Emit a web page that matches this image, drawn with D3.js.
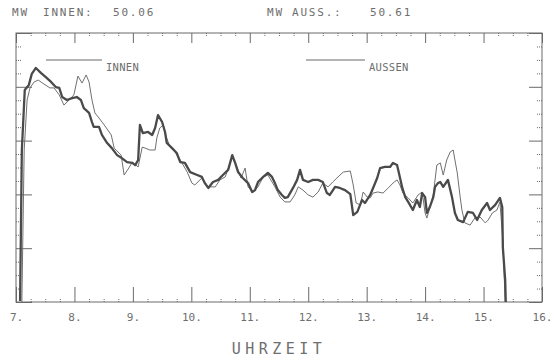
<!DOCTYPE html>
<html>
<head>
<meta charset="utf-8">
<script src="https://cdn.jsdelivr.net/npm/d3@7"></script>
<style>
  body { margin: 0; background: #fff; }
  svg text { font-family: "DejaVu Sans Mono", monospace; fill: #6e6e6e; }
  .axis path, .axis line { stroke: #6a6a6a; }
</style>
</head>
<body>
<svg id="chart"></svg>
<script>
// time of day (hours) and value
const innen = [
  [7.07,0.4],[7.10,56.5],[7.15,78.8],[7.22,80.7],[7.27,84.8],[7.34,87.0],[7.43,85.1],[7.51,83.6],
  [7.60,81.8],[7.68,79.9],[7.74,79.6],[7.79,76.2],[7.87,75.1],[7.96,75.8],[8.04,76.2],[8.11,75.1],
  [8.16,72.1],[8.25,70.3],[8.30,66.9],[8.33,65.1],[8.42,65.1],[8.47,62.1],[8.56,59.1],[8.64,57.2],
  [8.73,54.6],[8.81,53.5],[8.90,52.0],[8.99,51.7],[9.04,50.9],[9.09,52.8],[9.12,65.8],[9.17,62.8],
  [9.26,63.2],[9.33,62.1],[9.38,64.7],[9.43,69.5],[9.50,66.9],[9.55,63.2],[9.58,59.1],[9.67,57.2],
  [9.75,55.4],[9.81,52.0],[9.89,51.7],[9.98,48.3],[10.10,47.2],[10.18,46.5],[10.23,44.2],[10.29,42.4],
  [10.37,44.6],[10.46,45.4],[10.54,47.2],[10.63,49.1],[10.70,54.6],[10.75,51.7],[10.80,48.3],[10.88,46.1],
  [10.97,44.2],[11.04,40.9],[11.09,41.6],[11.14,44.6],[11.23,46.5],[11.31,48.0],[11.38,46.5],[11.43,44.2],
  [11.48,41.6],[11.55,39.8],[11.60,38.7],[11.65,39.0],[11.74,42.4],[11.81,45.4],[11.86,49.1],[11.91,45.4],
  [12.00,44.6],[12.08,45.4],[12.17,45.4],[12.25,44.6],[12.32,40.5],[12.37,39.8],[12.46,42.8],[12.54,42.4],
  [12.63,41.6],[12.72,40.1],[12.77,32.3],[12.84,33.5],[12.92,37.9],[12.97,36.8],[13.06,39.8],[13.11,42.4],
  [13.18,46.1],[13.23,49.8],[13.31,50.2],[13.40,50.2],[13.45,51.7],[13.52,50.9],[13.54,49.1],[13.61,42.4],
  [13.66,39.0],[13.71,37.2],[13.79,34.2],[13.86,37.9],[13.91,35.3],[13.95,40.5],[14.00,39.0],[14.03,33.1],
  [14.08,35.3],[14.14,39.0],[14.17,42.8],[14.22,44.2],[14.26,44.6],[14.31,42.8],[14.39,45.4],[14.46,39.0],
  [14.51,33.1],[14.56,30.5],[14.65,29.7],[14.73,33.5],[14.82,33.1],[14.89,30.5],[14.97,34.2],[15.06,36.8],
  [15.11,34.2],[15.20,36.1],[15.28,38.7],[15.32,35.3],[15.33,20.4],[15.37,8.2],[15.38,0]
];

const aussen = [
  [7.10,0],[7.14,56.5],[7.19,75.1],[7.24,79.6],[7.31,81.8],[7.38,82.5],[7.48,81.0],[7.58,79.6],
  [7.65,79.6],[7.74,77.0],[7.82,73.2],[7.91,75.1],[7.99,77.0],[8.06,84.0],[8.13,81.4],[8.20,84.4],
  [8.25,81.8],[8.30,75.1],[8.35,70.3],[8.42,68.4],[8.51,65.8],[8.63,62.1],[8.68,57.2],[8.80,54.6],
  [8.85,47.2],[8.93,49.8],[8.99,52.0],[9.09,50.2],[9.16,57.6],[9.21,57.2],[9.29,56.5],[9.38,56.5],
  [9.41,61.0],[9.46,64.7],[9.52,65.8],[9.57,61.3],[9.64,57.6],[9.72,55.8],[9.81,52.8],[9.93,48.3],
  [10.01,44.2],[10.06,43.5],[10.18,46.1],[10.29,42.8],[10.41,42.8],[10.49,45.4],[10.58,46.5],[10.70,53.9],
  [10.78,50.2],[10.85,46.1],[10.92,49.8],[10.97,42.8],[11.06,40.9],[11.14,42.8],[11.23,46.5],[11.31,47.2],
  [11.43,42.8],[11.52,39.0],[11.60,37.2],[11.69,37.2],[11.77,39.8],[11.83,42.8],[11.91,41.6],[12.00,39.8],
  [12.08,39.0],[12.17,40.9],[12.25,44.2],[12.34,42.8],[12.42,44.6],[12.51,46.5],[12.60,48.3],[12.72,48.7],
  [12.77,43.5],[12.82,36.8],[12.89,36.1],[12.94,40.9],[13.01,39.0],[13.06,38.7],[13.11,40.5],[13.19,40.9],
  [13.28,40.5],[13.37,42.4],[13.45,44.2],[13.52,45.4],[13.57,43.5],[13.62,40.5],[13.71,38.7],[13.79,36.8],
  [13.88,39.8],[13.95,40.9],[14.00,33.1],[14.03,31.2],[14.08,34.9],[14.14,39.8],[14.20,50.9],[14.26,51.7],
  [14.31,47.2],[14.37,52.8],[14.43,55.8],[14.48,56.5],[14.51,52.8],[14.55,48.0],[14.60,39.0],[14.63,34.2],
  [14.68,29.4],[14.77,28.6],[14.85,31.2],[14.94,31.6],[15.03,29.4],[15.08,30.5],[15.15,33.1],[15.23,34.2],
  [15.28,37.2],[15.33,23.0],[15.37,0]
];

const hourTicks = [7, 8, 9, 10, 11, 12, 13, 14, 15, 16];
const valueTicks = [0, 20, 40, 60, 80, 100];
const meanInnen = "50.06";
const meanAussen = "50.61";

const W = 554, H = 364;
const svg = d3.select("#chart").attr("width", W).attr("height", H);

const x = d3.scaleLinear().domain([7, 16]).range([16, 542]);
const y = d3.scaleLinear().domain([0, 100]).range([302, 33]);

const minorX = d3.range(7, 16.01, 0.25).filter(d => d % 1 !== 0);
const minorY = d3.range(0, 100.1, 5).filter(d => d % 20 !== 0);

// frame
svg.append("rect")
    .attr("x", x(7)).attr("y", y(100))
    .attr("width", x(16) - x(7)).attr("height", y(0) - y(100))
    .attr("fill", "none").attr("stroke", "#6a6a6a").attr("stroke-width", 1);

// bottom axis with labels
const bottomAxis = svg.append("g").attr("class", "axis")
    .attr("transform", `translate(0,${y(0)})`)
    .call(d3.axisBottom(x).tickValues(hourTicks).tickSize(-15).tickSizeOuter(0)
        .tickPadding(11).tickFormat(d => d + "."));
bottomAxis.select(".domain").remove();
bottomAxis.selectAll("text").attr("font-size", 11).attr("dy", "0.71em")
    .attr("font-family", "DejaVu Sans Mono").attr("fill", "#6e6e6e");

const minorAxis = (g, axis) => {
    g.attr("class", "axis").call(axis);
    g.select(".domain").remove();
    g.selectAll("text").remove();
    g.selectAll("line").attr("stroke-dasharray", "1,1");
};

svg.append("g").attr("transform", `translate(0,${y(0)})`)
    .call(g => minorAxis(g, d3.axisBottom(x).tickValues(minorX).tickSize(-4)));
svg.append("g").attr("transform", `translate(0,${y(100)})`)
    .call(g => minorAxis(g, d3.axisTop(x).tickValues(minorX).tickSize(-3)));

// top major ticks
const topAxis = svg.append("g").attr("class", "axis")
    .attr("transform", `translate(0,${y(100)})`)
    .call(d3.axisTop(x).tickValues(hourTicks).tickSize(-10).tickSizeOuter(0).tickFormat(""));
topAxis.select(".domain").remove();

// left / right ticks
const leftAxis = svg.append("g").attr("class", "axis")
    .attr("transform", `translate(${x(7)},0)`)
    .call(d3.axisLeft(y).tickValues(valueTicks).tickSize(-16).tickSizeOuter(0).tickFormat(""));
leftAxis.select(".domain").remove();
const rightAxis = svg.append("g").attr("class", "axis")
    .attr("transform", `translate(${x(16)},0)`)
    .call(d3.axisRight(y).tickValues(valueTicks).tickSize(-13).tickSizeOuter(0).tickFormat(""));
rightAxis.select(".domain").remove();
svg.append("g").attr("transform", `translate(${x(7)},0)`)
    .call(g => minorAxis(g, d3.axisLeft(y).tickValues(minorY).tickSize(-6)));
svg.append("g").attr("transform", `translate(${x(16)},0)`)
    .call(g => minorAxis(g, d3.axisRight(y).tickValues(minorY).tickSize(-6)));

// curves
const line = d3.line().x(d => x(d[0])).y(d => y(d[1]));

svg.append("path").datum(aussen)
    .attr("fill", "none").attr("stroke", "#707070").attr("stroke-width", 1)
    .attr("d", line);
svg.append("path").datum(innen)
    .attr("fill", "none").attr("stroke", "#4a4a4a").attr("stroke-width", 2.3)
    .attr("stroke-linejoin", "round").attr("d", line);

// legend
const legend = [
    { name: "INNEN", x0: 46, x1: 102 },
    { name: "AUSSEN", x0: 306, x1: 365 }
];
legend.forEach(l => {
    svg.append("line")
        .attr("x1", l.x0).attr("x2", l.x1).attr("y1", 60).attr("y2", 60)
        .attr("stroke", "#6a6a6a").attr("stroke-width", 1.2);
    svg.append("text").attr("x", l.x1 + 4).attr("y", 70.5)
        .attr("font-size", 10.5).attr("letter-spacing", 0.3).text(l.name);
});

// header
const header = [
    { t: "MW", x: 12 }, { t: "INNEN:", x: 43 }, { t: meanInnen, x: 113 },
    { t: "MW", x: 267 }, { t: "AUSS.:", x: 292 }, { t: meanAussen, x: 370 }
];
svg.selectAll(".hdr").data(header).enter().append("text")
    .attr("x", d => d.x).attr("y", 16)
    .attr("font-size", 11).attr("letter-spacing", 1.8)
    .text(d => d.t);

// x title
svg.append("text")
    .attr("x", (x(7) + x(16)) / 2).attr("y", 354)
    .attr("text-anchor", "middle")
    .attr("font-size", 15).attr("letter-spacing", 4.5)
    .text("UHRZEIT");
</script>
</body>
</html>
